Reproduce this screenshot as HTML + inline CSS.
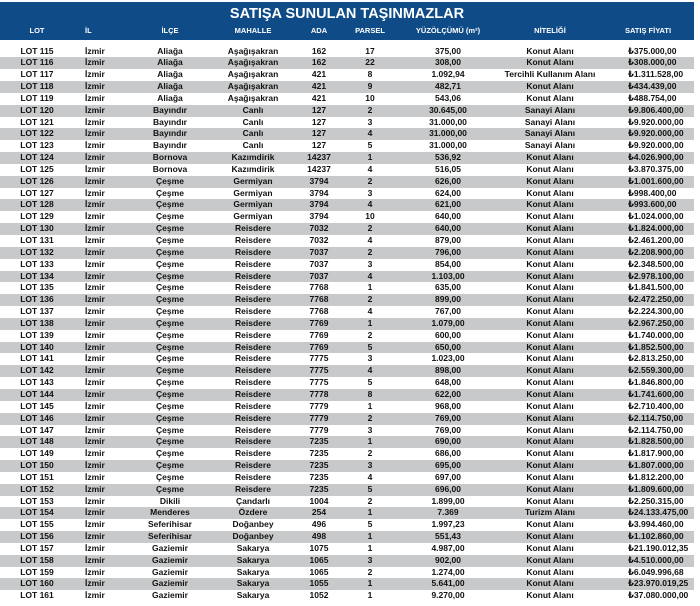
<!DOCTYPE html>
<html><head><meta charset="utf-8"><style>
body{margin:0;width:700px;height:606px;background:#fff;overflow:hidden;font-family:"Liberation Sans","DejaVu Sans",sans-serif;}
.hd{position:absolute;left:0;top:2px;width:694px;height:38px;background:#0f4c87;color:#fff;}
.ttl{position:absolute;left:0;width:694px;top:4px;text-align:center;font-weight:bold;font-size:14.5px;}
table{position:absolute;left:0;border-collapse:collapse;table-layout:fixed;width:694px;font-weight:bold;font-size:8.5px;color:#111;}
td{padding:0;height:11.84px;line-height:11.84px;text-align:center;white-space:nowrap;overflow:hidden;}
td.l{text-align:left;padding-left:11px}
td.p{text-align:left;padding-left:26px}
tr.g td{background:#c8c9ca}
.h td{color:#fff;height:12px;line-height:12px;font-size:7.5px}
</style></head><body>
<div class="hd"><div class="ttl">SATIŞA SUNULAN TAŞINMAZLAR</div></div>
<table class="h" style="top:25px"><colgroup><col style="width:74px"><col style="width:56px"><col style="width:80px"><col style="width:86px"><col style="width:46px"><col style="width:56px"><col style="width:100px"><col style="width:104px"><col style="width:92px"></colgroup>
<tr><td>LOT</td><td class="l">İL</td><td>İLÇE</td><td>MAHALLE</td><td>ADA</td><td>PARSEL</td><td>YÜZÖLÇÜMÜ (m²)</td><td>NİTELİĞİ</td><td>SATIŞ FİYATI</td></tr></table>
<table style="top:45.5px"><colgroup><col style="width:74px"><col style="width:56px"><col style="width:80px"><col style="width:86px"><col style="width:46px"><col style="width:56px"><col style="width:100px"><col style="width:104px"><col style="width:92px"></colgroup>
<tr><td>LOT 115</td><td class="l">İzmir</td><td>Aliağa</td><td>Aşağışakran</td><td>162</td><td>17</td><td>375,00</td><td>Konut Alanı</td><td class="p">₺375.000,00</td></tr>
<tr class="g"><td>LOT 116</td><td class="l">İzmir</td><td>Aliağa</td><td>Aşağışakran</td><td>162</td><td>22</td><td>308,00</td><td>Konut Alanı</td><td class="p">₺308.000,00</td></tr>
<tr><td>LOT 117</td><td class="l">İzmir</td><td>Aliağa</td><td>Aşağışakran</td><td>421</td><td>8</td><td>1.092,94</td><td>Tercihli Kullanım Alanı</td><td class="p">₺1.311.528,00</td></tr>
<tr class="g"><td>LOT 118</td><td class="l">İzmir</td><td>Aliağa</td><td>Aşağışakran</td><td>421</td><td>9</td><td>482,71</td><td>Konut Alanı</td><td class="p">₺434.439,00</td></tr>
<tr><td>LOT 119</td><td class="l">İzmir</td><td>Aliağa</td><td>Aşağışakran</td><td>421</td><td>10</td><td>543,06</td><td>Konut Alanı</td><td class="p">₺488.754,00</td></tr>
<tr class="g"><td>LOT 120</td><td class="l">İzmir</td><td>Bayındır</td><td>Canlı</td><td>127</td><td>2</td><td>30.645,00</td><td>Sanayi Alanı</td><td class="p">₺9.806.400,00</td></tr>
<tr><td>LOT 121</td><td class="l">İzmir</td><td>Bayındır</td><td>Canlı</td><td>127</td><td>3</td><td>31.000,00</td><td>Sanayi Alanı</td><td class="p">₺9.920.000,00</td></tr>
<tr class="g"><td>LOT 122</td><td class="l">İzmir</td><td>Bayındır</td><td>Canlı</td><td>127</td><td>4</td><td>31.000,00</td><td>Sanayi Alanı</td><td class="p">₺9.920.000,00</td></tr>
<tr><td>LOT 123</td><td class="l">İzmir</td><td>Bayındır</td><td>Canlı</td><td>127</td><td>5</td><td>31.000,00</td><td>Sanayi Alanı</td><td class="p">₺9.920.000,00</td></tr>
<tr class="g"><td>LOT 124</td><td class="l">İzmir</td><td>Bornova</td><td>Kazımdirik</td><td>14237</td><td>1</td><td>536,92</td><td>Konut Alanı</td><td class="p">₺4.026.900,00</td></tr>
<tr><td>LOT 125</td><td class="l">İzmir</td><td>Bornova</td><td>Kazımdirik</td><td>14237</td><td>4</td><td>516,05</td><td>Konut Alanı</td><td class="p">₺3.870.375,00</td></tr>
<tr class="g"><td>LOT 126</td><td class="l">İzmir</td><td>Çeşme</td><td>Germiyan</td><td>3794</td><td>2</td><td>626,00</td><td>Konut Alanı</td><td class="p">₺1.001.600,00</td></tr>
<tr><td>LOT 127</td><td class="l">İzmir</td><td>Çeşme</td><td>Germiyan</td><td>3794</td><td>3</td><td>624,00</td><td>Konut Alanı</td><td class="p">₺998.400,00</td></tr>
<tr class="g"><td>LOT 128</td><td class="l">İzmir</td><td>Çeşme</td><td>Germiyan</td><td>3794</td><td>4</td><td>621,00</td><td>Konut Alanı</td><td class="p">₺993.600,00</td></tr>
<tr><td>LOT 129</td><td class="l">İzmir</td><td>Çeşme</td><td>Germiyan</td><td>3794</td><td>10</td><td>640,00</td><td>Konut Alanı</td><td class="p">₺1.024.000,00</td></tr>
<tr class="g"><td>LOT 130</td><td class="l">İzmir</td><td>Çeşme</td><td>Reisdere</td><td>7032</td><td>2</td><td>640,00</td><td>Konut Alanı</td><td class="p">₺1.824.000,00</td></tr>
<tr><td>LOT 131</td><td class="l">İzmir</td><td>Çeşme</td><td>Reisdere</td><td>7032</td><td>4</td><td>879,00</td><td>Konut Alanı</td><td class="p">₺2.461.200,00</td></tr>
<tr class="g"><td>LOT 132</td><td class="l">İzmir</td><td>Çeşme</td><td>Reisdere</td><td>7037</td><td>2</td><td>796,00</td><td>Konut Alanı</td><td class="p">₺2.208.900,00</td></tr>
<tr><td>LOT 133</td><td class="l">İzmir</td><td>Çeşme</td><td>Reisdere</td><td>7037</td><td>3</td><td>854,00</td><td>Konut Alanı</td><td class="p">₺2.348.500,00</td></tr>
<tr class="g"><td>LOT 134</td><td class="l">İzmir</td><td>Çeşme</td><td>Reisdere</td><td>7037</td><td>4</td><td>1.103,00</td><td>Konut Alanı</td><td class="p">₺2.978.100,00</td></tr>
<tr><td>LOT 135</td><td class="l">İzmir</td><td>Çeşme</td><td>Reisdere</td><td>7768</td><td>1</td><td>635,00</td><td>Konut Alanı</td><td class="p">₺1.841.500,00</td></tr>
<tr class="g"><td>LOT 136</td><td class="l">İzmir</td><td>Çeşme</td><td>Reisdere</td><td>7768</td><td>2</td><td>899,00</td><td>Konut Alanı</td><td class="p">₺2.472.250,00</td></tr>
<tr><td>LOT 137</td><td class="l">İzmir</td><td>Çeşme</td><td>Reisdere</td><td>7768</td><td>4</td><td>767,00</td><td>Konut Alanı</td><td class="p">₺2.224.300,00</td></tr>
<tr class="g"><td>LOT 138</td><td class="l">İzmir</td><td>Çeşme</td><td>Reisdere</td><td>7769</td><td>1</td><td>1.079,00</td><td>Konut Alanı</td><td class="p">₺2.967.250,00</td></tr>
<tr><td>LOT 139</td><td class="l">İzmir</td><td>Çeşme</td><td>Reisdere</td><td>7769</td><td>2</td><td>600,00</td><td>Konut Alanı</td><td class="p">₺1.740.000,00</td></tr>
<tr class="g"><td>LOT 140</td><td class="l">İzmir</td><td>Çeşme</td><td>Reisdere</td><td>7769</td><td>5</td><td>650,00</td><td>Konut Alanı</td><td class="p">₺1.852.500,00</td></tr>
<tr><td>LOT 141</td><td class="l">İzmir</td><td>Çeşme</td><td>Reisdere</td><td>7775</td><td>3</td><td>1.023,00</td><td>Konut Alanı</td><td class="p">₺2.813.250,00</td></tr>
<tr class="g"><td>LOT 142</td><td class="l">İzmir</td><td>Çeşme</td><td>Reisdere</td><td>7775</td><td>4</td><td>898,00</td><td>Konut Alanı</td><td class="p">₺2.559.300,00</td></tr>
<tr><td>LOT 143</td><td class="l">İzmir</td><td>Çeşme</td><td>Reisdere</td><td>7775</td><td>5</td><td>648,00</td><td>Konut Alanı</td><td class="p">₺1.846.800,00</td></tr>
<tr class="g"><td>LOT 144</td><td class="l">İzmir</td><td>Çeşme</td><td>Reisdere</td><td>7778</td><td>8</td><td>622,00</td><td>Konut Alanı</td><td class="p">₺1.741.600,00</td></tr>
<tr><td>LOT 145</td><td class="l">İzmir</td><td>Çeşme</td><td>Reisdere</td><td>7779</td><td>1</td><td>968,00</td><td>Konut Alanı</td><td class="p">₺2.710.400,00</td></tr>
<tr class="g"><td>LOT 146</td><td class="l">İzmir</td><td>Çeşme</td><td>Reisdere</td><td>7779</td><td>2</td><td>769,00</td><td>Konut Alanı</td><td class="p">₺2.114.750,00</td></tr>
<tr><td>LOT 147</td><td class="l">İzmir</td><td>Çeşme</td><td>Reisdere</td><td>7779</td><td>3</td><td>769,00</td><td>Konut Alanı</td><td class="p">₺2.114.750,00</td></tr>
<tr class="g"><td>LOT 148</td><td class="l">İzmir</td><td>Çeşme</td><td>Reisdere</td><td>7235</td><td>1</td><td>690,00</td><td>Konut Alanı</td><td class="p">₺1.828.500,00</td></tr>
<tr><td>LOT 149</td><td class="l">İzmir</td><td>Çeşme</td><td>Reisdere</td><td>7235</td><td>2</td><td>686,00</td><td>Konut Alanı</td><td class="p">₺1.817.900,00</td></tr>
<tr class="g"><td>LOT 150</td><td class="l">İzmir</td><td>Çeşme</td><td>Reisdere</td><td>7235</td><td>3</td><td>695,00</td><td>Konut Alanı</td><td class="p">₺1.807.000,00</td></tr>
<tr><td>LOT 151</td><td class="l">İzmir</td><td>Çeşme</td><td>Reisdere</td><td>7235</td><td>4</td><td>697,00</td><td>Konut Alanı</td><td class="p">₺1.812.200,00</td></tr>
<tr class="g"><td>LOT 152</td><td class="l">İzmir</td><td>Çeşme</td><td>Reisdere</td><td>7235</td><td>5</td><td>696,00</td><td>Konut Alanı</td><td class="p">₺1.809.600,00</td></tr>
<tr><td>LOT 153</td><td class="l">İzmir</td><td>Dikili</td><td>Çandarlı</td><td>1004</td><td>2</td><td>1.899,00</td><td>Konut Alanı</td><td class="p">₺2.250.315,00</td></tr>
<tr class="g"><td>LOT 154</td><td class="l">İzmir</td><td>Menderes</td><td>Özdere</td><td>254</td><td>1</td><td>7.369</td><td>Turizm Alanı</td><td class="p">₺24.133.475,00</td></tr>
<tr><td>LOT 155</td><td class="l">İzmir</td><td>Seferihisar</td><td>Doğanbey</td><td>496</td><td>5</td><td>1.997,23</td><td>Konut Alanı</td><td class="p">₺3.994.460,00</td></tr>
<tr class="g"><td>LOT 156</td><td class="l">İzmir</td><td>Seferihisar</td><td>Doğanbey</td><td>498</td><td>1</td><td>551,43</td><td>Konut Alanı</td><td class="p">₺1.102.860,00</td></tr>
<tr><td>LOT 157</td><td class="l">İzmir</td><td>Gaziemir</td><td>Sakarya</td><td>1075</td><td>1</td><td>4.987,00</td><td>Konut Alanı</td><td class="p">₺21.190.012,35</td></tr>
<tr class="g"><td>LOT 158</td><td class="l">İzmir</td><td>Gaziemir</td><td>Sakarya</td><td>1065</td><td>3</td><td>902,00</td><td>Konut Alanı</td><td class="p">₺4.510.000,00</td></tr>
<tr><td>LOT 159</td><td class="l">İzmir</td><td>Gaziemir</td><td>Sakarya</td><td>1065</td><td>2</td><td>1.274,00</td><td>Konut Alanı</td><td class="p">₺6.049.996,68</td></tr>
<tr class="g"><td>LOT 160</td><td class="l">İzmir</td><td>Gaziemir</td><td>Sakarya</td><td>1055</td><td>1</td><td>5.641,00</td><td>Konut Alanı</td><td class="p">₺23.970.019,25</td></tr>
<tr><td>LOT 161</td><td class="l">İzmir</td><td>Gaziemir</td><td>Sakarya</td><td>1052</td><td>1</td><td>9.270,00</td><td>Konut Alanı</td><td class="p">₺37.080.000,00</td></tr>
</table>
</body></html>
